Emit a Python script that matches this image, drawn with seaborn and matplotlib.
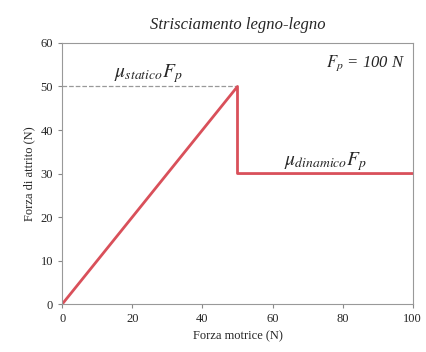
import pandas as pd
import matplotlib.pyplot as plt
import seaborn as sns

# Data
forza_motrice = [0, 50, 50, 100]
forza_attrito = [0, 50, 30, 30]
statico_x = [0, 50]
statico_y = [50, 50]

df = pd.DataFrame({'Forza motrice': forza_motrice, 'Forza attrito': forza_attrito})

sns.set_style('ticks')
plt.rcParams['font.family'] = ['Liberation Serif', 'DejaVu Serif']
plt.rcParams['mathtext.fontset'] = 'stix'

fig = plt.figure(figsize=(4.26, 3.52), dpi=100)
ax = fig.add_axes([0.146, 0.136, 0.823, 0.742])

# Dashed reference at static friction level
sns.lineplot(x=statico_x, y=statico_y, ax=ax, color='#999999', linestyle='--', linewidth=0.9)

# Friction force vs applied force (keep the vertical drop at x=50)
sns.lineplot(x='Forza motrice', y='Forza attrito', data=df, sort=False, estimator=None,
             ax=ax, color='#d9505a', linewidth=2)

ax.set_xlim(0, 100)
ax.set_ylim(0, 60)
ax.set_xticks([0, 20, 40, 60, 80, 100])
ax.set_yticks([0, 10, 20, 30, 40, 50, 60])
ax.tick_params(labelsize=9, length=3, color='#888888')
for s in ax.spines.values():
    s.set_color('#999999')
    s.set_visible(True)

ax.set_title('Strisciamento legno-legno', fontsize=12, style='italic', pad=10)
ax.set_xlabel('Forza motrice (N)', fontsize=9)
ax.set_ylabel('Forza di attrito (N)', fontsize=9)

ax.text(24.5, 52, r'$\mu_{statico}F_p$', fontsize=14, ha='center')
ax.text(75.2, 32, r'$\mu_{dinamico}F_p$', fontsize=14, ha='center')
ax.text(98, 54.5, r'$F_p$ = 100 N', fontsize=12, ha='right', style='italic')

fig.savefig('out.png', dpi=100)
